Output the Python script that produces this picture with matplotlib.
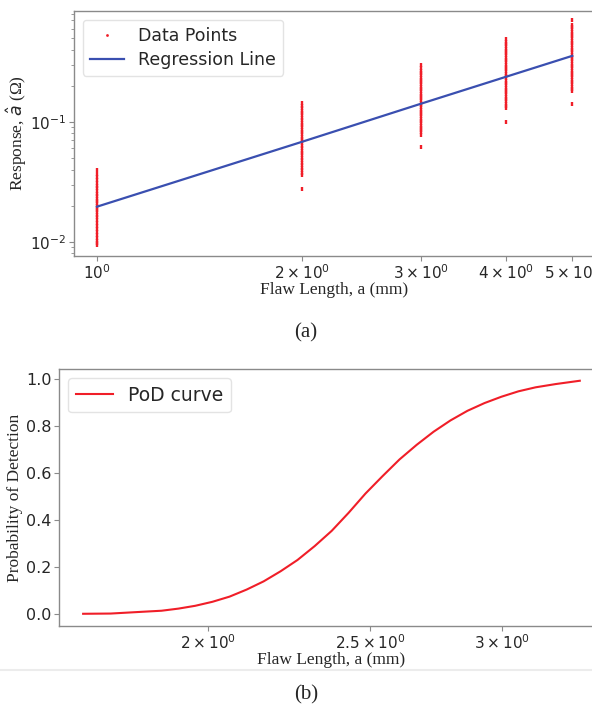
import matplotlib
matplotlib.use("Agg")
import matplotlib.pyplot as plt
from matplotlib.ticker import FixedLocator, FixedFormatter, NullFormatter, NullLocator
from matplotlib.lines import Line2D

# ---------------- data: panel (a) ----------------
flaw_lengths = [1, 2, 3, 4, 5]
resp_a1 = [0.0093, 0.0097, 0.0102, 0.0108, 0.0114, 0.0121, 0.0128, 0.0136, 0.0144, 0.0152,
           0.0160, 0.0168, 0.0176, 0.0184, 0.0192, 0.0200, 0.0209, 0.0218, 0.0228, 0.0239,
           0.0251, 0.0264, 0.0278, 0.0293, 0.0310, 0.0328, 0.0348, 0.0365, 0.0398]
resp_a2 = [0.0275, 0.036, 0.0377, 0.0395, 0.0414, 0.0434, 0.0455, 0.0477, 0.050, 0.0524,
           0.0549, 0.0575, 0.0602, 0.063, 0.066, 0.069, 0.072, 0.0752, 0.0786, 0.0822,
           0.086, 0.090, 0.0942, 0.0986, 0.1032, 0.108, 0.113, 0.1185, 0.124, 0.130, 0.136, 0.144]
resp_a3 = [0.062, 0.078, 0.0815, 0.0852, 0.089, 0.093, 0.0972, 0.1015, 0.106, 0.1108,
           0.1158, 0.121, 0.1265, 0.132, 0.138, 0.1442, 0.1507, 0.1575, 0.1646, 0.172,
           0.1797, 0.1878, 0.1962, 0.205, 0.2142, 0.2238, 0.2338, 0.2443, 0.2553, 0.2668, 0.28, 0.30]
resp_a4 = [0.100, 0.130, 0.1358, 0.1419, 0.1483, 0.155, 0.162, 0.1693, 0.1769, 0.1849,
           0.1932, 0.2019, 0.211, 0.2205, 0.2304, 0.2408, 0.2516, 0.2629, 0.2747, 0.2871,
           0.30, 0.3135, 0.3276, 0.3423, 0.3577, 0.3738, 0.3906, 0.4082, 0.4266, 0.4458, 0.466, 0.49]
resp_a5 = [0.140, 0.180, 0.1881, 0.1966, 0.2054, 0.2147, 0.2243, 0.2344, 0.245, 0.256,
           0.2675, 0.2795, 0.2921, 0.3053, 0.319, 0.3334, 0.3484, 0.364, 0.3804, 0.3975,
           0.4154, 0.4341, 0.4537, 0.4741, 0.4954, 0.5177, 0.541, 0.5654, 0.5908, 0.617, 0.645, 0.70]
regression_resp = [0.0196, 0.068, 0.142, 0.238, 0.355]

top_xticks = [1, 2, 3, 4, 5]
top_xticklabels = [r"$\mathdefault{10^{0}}$", r"$\mathdefault{2\times10^{0}}$",
                   r"$\mathdefault{3\times10^{0}}$", r"$\mathdefault{4\times10^{0}}$",
                   r"$\mathdefault{5\times10^{0}}$"]

# ---------------- data: panel (b) ----------------
pod_a = [1.685, 1.750, 1.791, 1.833, 1.877, 1.921, 1.966, 2.013, 2.061, 2.110,
         2.160, 2.211, 2.263, 2.317, 2.372, 2.428, 2.485, 2.544, 2.604, 2.666,
         2.729, 2.793, 2.859, 2.927, 2.996, 3.067, 3.140, 3.229, 3.337]
pod_p = [0.001, 0.002, 0.006, 0.010, 0.014, 0.023, 0.035, 0.052, 0.074, 0.104,
         0.139, 0.182, 0.230, 0.289, 0.354, 0.431, 0.513, 0.587, 0.658, 0.720,
         0.776, 0.824, 0.865, 0.898, 0.925, 0.948, 0.965, 0.979, 0.993]
bot_xticks = [2, 2.5, 3]
bot_xticklabels = [r"$\mathdefault{2\times10^{0}}$", r"$\mathdefault{2.5\times10^{0}}$",
                   r"$\mathdefault{3\times10^{0}}$"]
bot_yticks = [0.0, 0.2, 0.4, 0.6, 0.8, 1.0]

# ---------------- style ----------------
SPINE = "#8a8a8a"
TXT = "#262626"
RED = "#f01e28"
BLUE = "#3a4fb0"
SERIF = ["Liberation Serif", "DejaVu Serif"]

fig = plt.figure(figsize=(5.92, 7.08), dpi=100)

def style_axes(ax):
    for s in ax.spines.values():
        s.set_color(SPINE)
        s.set_linewidth(1.0)
    ax.tick_params(which="both", colors=SPINE, labelcolor=TXT, labelsize=11, direction="out", pad=2)
    ax.tick_params(which="major", length=3.5, width=0.8)
    ax.tick_params(which="minor", length=2, width=0.6)

# ---- panel (a) ----
ax1 = fig.add_axes([74/592, 1-256/708, (595-74)/592, 245/708])
groups = [resp_a1, resp_a2, resp_a3, resp_a4, resp_a5]
for xv, vals in zip(flaw_lengths, groups):
    ax1.plot([xv]*len(vals), vals, linestyle="none", marker="|", markersize=3.2,
             markeredgewidth=1.7, color=RED)
ax1.plot(flaw_lengths, regression_resp, color=BLUE, linewidth=1.6)
ax1.set_xscale("log")
ax1.set_yscale("log")
ax1.set_xlim(0.925, 5.4)
ax1.set_ylim(0.0076, 0.84)
ax1.xaxis.set_major_locator(FixedLocator(top_xticks))
ax1.xaxis.set_major_formatter(FixedFormatter(top_xticklabels))
ax1.xaxis.set_minor_locator(NullLocator())
ax1.yaxis.set_minor_formatter(NullFormatter())
style_axes(ax1)
ax1.set_xlabel("Flaw Length, a (mm)", family=SERIF, fontsize=12.5, color=TXT, labelpad=0)
ax1.set_ylabel(r"Response, $\hat{a}$ (Ω)", family=SERIF, fontsize=12.5, color=TXT, labelpad=1)
handles = [Line2D([], [], linestyle="none", marker="o", markersize=2.0, markeredgewidth=0, color=RED),
           Line2D([], [], color=BLUE, linewidth=1.6)]
leg1 = ax1.legend(handles, ["Data Points", "Regression Line"], loc="upper left",
                  fontsize=12.5, frameon=True, fancybox=True, borderpad=0.4,
                  handlelength=2.0, labelspacing=0.35)
leg1.get_frame().set_edgecolor("#dddddd")
for t in leg1.get_texts():
    t.set_color(TXT)

# ---- panel (b) ----
ax2 = fig.add_axes([59/592, 1-626/708, (604-59)/592, 257/708])
ax2.plot(pod_a, pod_p, color=RED, linewidth=1.5, label="PoD curve")
ax2.set_xscale("log")
ax2.set_xlim(1.63, 3.45)
ax2.set_ylim(-0.051, 1.043)
ax2.xaxis.set_major_locator(FixedLocator(bot_xticks))
ax2.xaxis.set_major_formatter(FixedFormatter(bot_xticklabels))
ax2.xaxis.set_minor_locator(NullLocator())
ax2.set_yticks(bot_yticks)
ax2.set_yticklabels([f"{v:.1f}" for v in bot_yticks])
style_axes(ax2)
ax2.tick_params(axis="y", labelsize=11.5)
ax2.set_xlabel("Flaw Length, a (mm)", family=SERIF, fontsize=12.5, color=TXT, labelpad=0)
ax2.set_ylabel("Probability of Detection", family=SERIF, fontsize=12.5, color=TXT, labelpad=2)
leg2 = ax2.legend(loc="upper left", fontsize=13.5, frameon=True, fancybox=True,
                  borderpad=0.4, handlelength=2.0)
leg2.get_frame().set_edgecolor("#dddddd")
for t in leg2.get_texts():
    t.set_color(TXT)

# captions and separator
fig.text(306/592, 1-333/708, "(a)", family=SERIF, fontsize=15, color=TXT, ha="center", va="center")
fig.text(306/592, 1-695/708, "(b)", family=SERIF, fontsize=15, color=TXT, ha="center", va="center")
fig.add_artist(Line2D([0, 1], [1-670/708, 1-670/708], color="#ececec", linewidth=1.5,
                      transform=fig.transFigure))

fig.savefig("out.png", dpi=100)
